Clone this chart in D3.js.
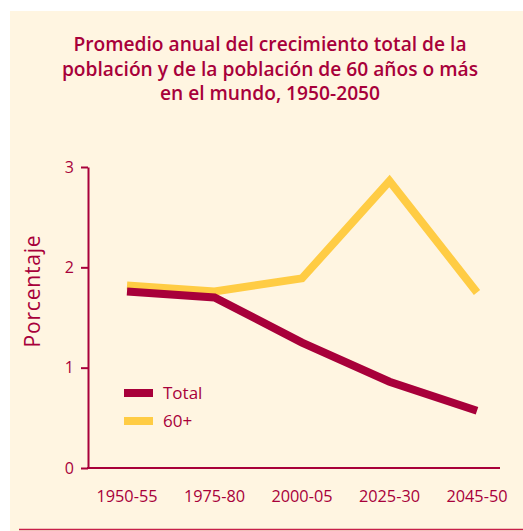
<!DOCTYPE html>
<html>
<head>
<meta charset="utf-8">
<script src="https://cdn.jsdelivr.net/npm/d3@7"></script>
<style>
  body { margin: 0; background: #fff; }
  svg { display: block; font-family: "Open Sans", "DejaVu Sans", sans-serif; }
</style>
</head>
<body>
<div id="chart-area"></div>
<script>
// data
var periods = ["1950-55", "1975-80", "2000-05", "2025-30", "2045-50"];
var total = [1.76, 1.70, 1.25, 0.86, 0.57];
var older = [1.82, 1.76, 1.89, 2.86, 1.75];
var yTicks = [0, 1, 2, 3];
var titleLines = ["Promedio anual del crecimiento total de la",
                  "población y de la población de 60 años o más",
                  "en el mundo, 1950-2050"];

var red = "#a8003a";
var yellow = "#ffcc44";

var svg = d3.select("#chart-area")
    .append("svg")
    .attr("width", 523)
    .attr("height", 531);

// cream panel
svg.append("rect")
    .attr("x", 10).attr("y", 11)
    .attr("width", 513).attr("height", 520)
    .attr("fill", "#fff5e1");

// bottom rule
svg.append("line")
    .attr("x1", 19).attr("x2", 523)
    .attr("y1", 529.5).attr("y2", 529.5)
    .attr("stroke", "#c8204a")
    .attr("stroke-width", 1.5);

// title
svg.append("text")
    .attr("x", 270)
    .attr("y", 51)
    .attr("text-anchor", "middle")
    .attr("font-size", "19.2px")
    .attr("font-weight", "600")
    .attr("fill", red)
    .selectAll("tspan")
    .data(titleLines)
    .enter().append("tspan")
    .attr("x", 270)
    .attr("dy", function(d, i) { return i === 0 ? 0 : 24.5; })
    .text(function(d) { return d; });

// scales
var x = d3.scalePoint()
    .domain(periods)
    .range([127, 477]);

var y = d3.scaleLinear()
    .domain([0, 3])
    .range([468, 167]);

// y axis
var yAxis = svg.append("g")
    .attr("transform", "translate(88,0)")
    .call(d3.axisLeft(y).tickValues(yTicks).tickFormat(d3.format("d")).tickSize(7).tickSizeOuter(0));
yAxis.select(".domain").attr("stroke", red).attr("stroke-width", 2);
yAxis.selectAll(".tick line").attr("stroke", red).attr("stroke-width", 2);
yAxis.selectAll(".tick text")
    .attr("fill", red)
    .attr("font-size", "16px")
    .attr("font-family", "Open Sans, sans-serif")
    .attr("x", -14);

// x axis line
svg.append("line")
    .attr("x1", 87).attr("x2", 500)
    .attr("y1", y(0)).attr("y2", y(0))
    .attr("stroke", red)
    .attr("stroke-width", 2);

// x labels
svg.selectAll(".xlab")
    .data(periods)
    .enter().append("text")
    .attr("class", "xlab")
    .attr("x", function(d) { return x(d); })
    .attr("y", 502)
    .attr("text-anchor", "middle")
    .attr("font-size", "16.3px")
    .attr("fill", red)
    .text(function(d) { return d; });

// y label
svg.append("text")
    .attr("transform", "translate(40,291) rotate(-90)")
    .attr("text-anchor", "middle")
    .attr("font-size", "21px")
    .attr("fill", red)
    .attr("letter-spacing", "0.8px")
    .text("Porcentaje");

// lines
var line = d3.line()
    .x(function(d, i) { return x(periods[i]); })
    .y(function(d) { return y(d); });

svg.append("path")
    .datum(older)
    .attr("fill", "none")
    .attr("stroke", yellow)
    .attr("stroke-width", 8)
    .attr("d", line);

svg.append("path")
    .datum(total)
    .attr("fill", "none")
    .attr("stroke", red)
    .attr("stroke-width", 8)
    .attr("d", line);

// legend
var legend = [{name: "Total", color: red}, {name: "60+", color: yellow}];
var lg = svg.selectAll(".legend")
    .data(legend)
    .enter().append("g")
    .attr("transform", function(d, i) { return "translate(124," + (389 + i * 28) + ")"; });
lg.append("rect")
    .attr("width", 29).attr("height", 8)
    .attr("fill", function(d) { return d.color; });
lg.append("text")
    .attr("x", 39).attr("y", 10)
    .attr("font-size", "17px")
    .attr("fill", red)
    .text(function(d) { return d.name; });
</script>
</body>
</html>
